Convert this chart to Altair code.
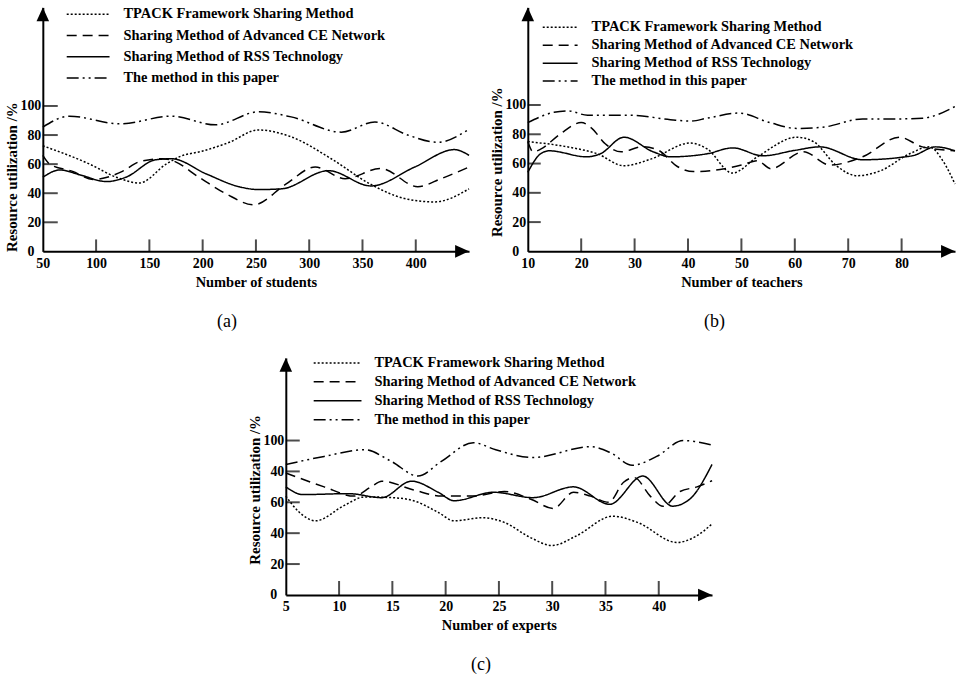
import altair as alt
import pandas as pd

FONT = "Liberation Serif"

SERIES = [
    "TPACK Framework Sharing Method",
    "Sharing Method of Advanced CE Network",
    "Sharing Method of RSS Technology",
    "The method in this paper",
]
DASHES = [[2, 2], [10, 6], [1, 0], [12, 4, 2, 4, 2, 4]]

Y_TICKS = [0, 20, 40, 60, 80, 100]

# ---------------- (a) Number of students ----------------
a_x_ticks = [50, 100, 150, 200, 250, 300, 350, 400]
a_tpack_x = [50, 94, 119, 140.5, 165.7, 178, 200, 225, 252, 283, 320.7, 358, 389.7, 417.7, 450]
a_tpack_y = [72.6, 60, 51, 47, 60, 65, 69, 75, 83.5, 78.8, 63.7, 46, 36.3, 34, 43]
a_ce_x = [50, 56.5, 78, 97, 124.7, 140.5, 162, 171, 196.5, 221.7, 248, 277.7, 305.7, 333.7, 367, 401.9, 423.7, 450]
a_ce_y = [66, 60, 55, 49.5, 55, 61.6, 63.7, 62.6, 51, 39.7, 32, 46, 58, 50, 57, 44.5, 50, 58]
a_rss_x = [50, 66, 84.5, 110, 128, 156, 171, 203, 234, 252.5, 274, 318, 358, 399, 436.4, 450]
a_rss_y = [51, 56, 52.7, 48, 51, 63, 63.7, 53.4, 44.5, 42.5, 43, 55.5, 45, 58, 70, 66]
a_our_x = [50, 75, 122, 171, 212, 252.5, 283, 330, 361.7, 392.5, 420.5, 450]
a_our_y = [85.5, 93, 87.7, 93, 87, 96, 92.5, 82, 89, 80, 75, 84]

# ---------------- (b) Number of teachers ----------------
b_x_ticks = [10, 20, 30, 40, 50, 60, 70, 80]
b_tpack_x = [10, 18, 23, 28, 33, 40.4, 43.6, 48.3, 53, 60.4, 63.5, 67.8, 71.6, 76, 81.5, 85.2, 87.7, 90]
b_tpack_y = [75, 71, 66.7, 58.5, 63, 74, 70, 53.5, 64.6, 78, 75, 58.5, 51.7, 55, 66.7, 71.4, 62, 46]
b_ce_x = [10, 11, 12.5, 16, 20, 22, 24.5, 27.5, 31.5, 34.5, 38, 41, 46, 50, 53, 55.5, 61.6, 66.6, 72.7, 79.6, 83.9, 90]
b_ce_y = [75, 68, 70, 80, 88, 84, 73.5, 68, 71.5, 69, 58, 54.5, 56, 59, 62, 56.5, 68, 59, 64.6, 78, 71.4, 68.7]
b_rss_x = [10, 12.4, 14, 21, 23.6, 28, 33.5, 36.7, 43.6, 48.4, 54, 60, 64.7, 72.7, 82, 86.4, 90]
b_rss_y = [54, 66.7, 68.7, 64.6, 66.7, 78, 68, 64.6, 66.7, 70.7, 65.3, 69, 71.4, 62.6, 65.3, 71.4, 68.7]
b_our_x = [10, 14.9, 17.5, 21.2, 29.2, 36.7, 40.5, 43.6, 49.5, 55.3, 60.4, 65.2, 72.7, 79, 83.9, 90]
b_our_y = [88, 95, 96, 93, 93, 90, 89, 91, 94.5, 88, 84, 84.8, 90.5, 90.5, 91, 99]

# ---------------- (c) Number of experts ----------------
c_x_ticks = [5, 10, 15, 20, 25, 30, 35, 40]
c_tpack_x = [5, 6.2, 7.8, 10.5, 12.4, 15, 17, 19.3, 20.8, 23.5, 25.5, 28, 30, 32.2, 35.7, 38, 41.7, 43.5, 45]
c_tpack_y = [64, 54, 48, 58, 63.5, 63, 61, 53.5, 48, 50, 47, 37, 32, 38, 51, 47, 34, 38, 46]
c_ce_x = [5, 8.6, 11.4, 13, 14, 17, 19.6, 22.6, 25.5, 28, 30.1, 32, 33.6, 35.3, 36.7, 37.7, 39.2, 40.4, 42, 43.6, 45]
c_ce_y = [79, 70, 64, 70, 73.7, 68, 64, 64, 67, 62, 56, 66.5, 64, 60, 73, 76, 64, 57.4, 67, 70, 74]
c_rss_x = [5, 6.6, 10.9, 14, 16.8, 19.3, 20.8, 24.5, 28.2, 32, 35.4, 38.5, 41.3, 42.9, 45]
c_rss_y = [70, 65, 65.6, 63, 73.7, 66.5, 61, 66.5, 63, 70, 58.7, 77, 57.5, 62, 84.5]
c_our_x = [5, 8.6, 12.4, 14.9, 17.4, 19.6, 22.6, 24.7, 28.2, 33.6, 35.5, 37.5, 39.8, 42.3, 45]
c_our_y = [84.5, 89.7, 94, 86.5, 77, 86.5, 98.6, 94, 89, 96, 92, 84, 89.7, 100, 97]


def frame(pairs):
    rows = []
    for name, xs, ys in zip(SERIES, pairs[0::2], pairs[1::2]):
        for xv, yv in zip(xs, ys):
            rows.append({"series": name, "x": xv, "y": yv})
    return pd.DataFrame(rows)


def panel(df, x_dom, x_vals, y_top, w, h, x_title, tag, tag_dx, rule_x, text_x,
          rows, xtick_len, ytick_len, title_y, label_expr=None):
    xs = alt.Scale(domain=x_dom, nice=False, zero=False)
    ys = alt.Scale(domain=[0, y_top], nice=False, zero=True)
    dash = alt.StrokeDash("series:N", scale=alt.Scale(domain=SERIES, range=DASHES), legend=None)

    x_axis = alt.Axis(
        values=x_vals, grid=False, ticks=False, tickSize=0,
        domainColor="black", domainWidth=2,
        labelFont=FONT, labelFontSize=14, labelFontWeight="bold", labelColor="black",
        labelPadding=5, labelFlush=False, labelOverlap=False, labelBaseline="top",
        title=x_title, titleFont=FONT, titleFontSize=14.5, titleFontWeight="bold",
        titleColor="black", titleY=31, titleBaseline="middle",
    )
    y_kw = dict(
        values=Y_TICKS, grid=False, ticks=False, tickSize=0,
        domainColor="black", domainWidth=2,
        labelFont=FONT, labelFontSize=14, labelFontWeight="bold", labelColor="black",
        labelPadding={"condition": {"test": "datum.value == 0", "value": 9}, "value": 2},
        labelFlush=False, labelOverlap=False,
        title="Resource utilization /%", titleFont=FONT, titleFontSize=15,
        titleFontWeight="bold", titleColor="black", titleX=-31, titleY=title_y,
        titleBaseline="middle", titleAlign="center", titleAngle=270,
    )
    if label_expr:
        y_kw["labelExpr"] = label_expr
    y_axis = alt.Axis(**y_kw)

    lines = alt.Chart(df).mark_line(interpolate="monotone", color="black", strokeWidth=1.5).encode(
        x=alt.X("x:Q", scale=xs, axis=x_axis),
        y=alt.Y("y:Q", scale=ys, axis=y_axis),
        strokeDash=dash,
    )
    xt = alt.Chart(pd.DataFrame({"v": x_vals[1:]})).mark_tick(
        orient="vertical", color="black", thickness=2, size=xtick_len).encode(
        x=alt.X("v:Q", scale=xs, axis=None), y=alt.value(h - xtick_len / 2))
    yt = alt.Chart(pd.DataFrame({"v": Y_TICKS[1:]})).mark_tick(
        orient="horizontal", color="black", thickness=2, size=ytick_len).encode(
        y=alt.Y("v:Q", scale=ys, axis=None), x=alt.value(ytick_len / 2))

    one = alt.Data(values=[{"k": 1}])
    up = alt.Chart(one).mark_point(
        shape="M0,-1L-0.9,1L0.9,1Z", size=196, filled=True, color="black",
        opacity=1, strokeWidth=0).encode(x=alt.value(0), y=alt.value(7))
    right = alt.Chart(one).mark_point(
        shape="M1,0L-1,-0.9L-1,0.9Z", size=196, filled=True, color="black",
        opacity=1, strokeWidth=0).encode(x=alt.value(w - 7), y=alt.value(h))

    ldf = pd.DataFrame({"series": SERIES})
    ly = alt.Y("series:N", scale=alt.Scale(type="point", domain=SERIES, range=rows, padding=0), axis=None)
    lrule = alt.Chart(ldf).mark_rule(color="black", strokeWidth=1.5).encode(
        x=alt.value(rule_x[0]), x2=alt.value(rule_x[1]), y=ly, strokeDash=dash)
    ltext = alt.Chart(ldf).mark_text(
        align="left", baseline="middle", font=FONT, fontSize=14.5, fontWeight="bold",
        color="black").encode(x=alt.value(text_x), y=ly, text="series:N")

    return alt.layer(lines, xt, yt, up, right, lrule, ltext).resolve_scale(
        x="independent", y="independent"
    ).properties(
        width=w, height=h,
        title=alt.TitleParams(tag, orient="bottom", font=FONT, fontSize=18,
                              fontWeight="normal", color="black", offset=24,
                              dx=tag_dx, frame="group", anchor="middle"),
    )


df_a = frame([a_tpack_x, a_tpack_y, a_ce_x, a_ce_y, a_rss_x, a_rss_y, a_our_x, a_our_y])
df_b = frame([b_tpack_x, b_tpack_y, b_ce_x, b_ce_y, b_rss_x, b_rss_y, b_our_x, b_our_y])
df_c = frame([c_tpack_x, c_tpack_y, c_ce_x, c_ce_y, c_rss_x, c_rss_y, c_our_x, c_our_y])

pa = panel(df_a, [50, 450], a_x_ticks, 167.8, 428, 245, "Number of students", "(a)", -29,
           (24, 67), 81, [7, 71], 12, 15, 170)
pb = panel(df_b, [10, 90], b_x_ticks, 166.7, 429, 245, "Number of teachers", "(b)", -27,
           (15, 50), 64, [20, 74], 13, 13, 155)
pc = panel(df_c, [5, 45], c_x_ticks, 153.5, 428, 238, "Number of experts", "(c)", -18,
           (28, 76), 89, [5, 62], 14, 14, 132,
           label_expr="datum.value == 80 ? '40' : datum.label")

chart = alt.vconcat(
    alt.hconcat(pa, pb, spacing=18),
    pc,
    spacing=24,
    center=True,
).properties(
    padding={"left": 5, "top": 5, "right": 0, "bottom": 3},
    background="white",
).configure_view(strokeWidth=0)

chart.save("out.html", embed_options={"renderer": "svg", "actions": False})
